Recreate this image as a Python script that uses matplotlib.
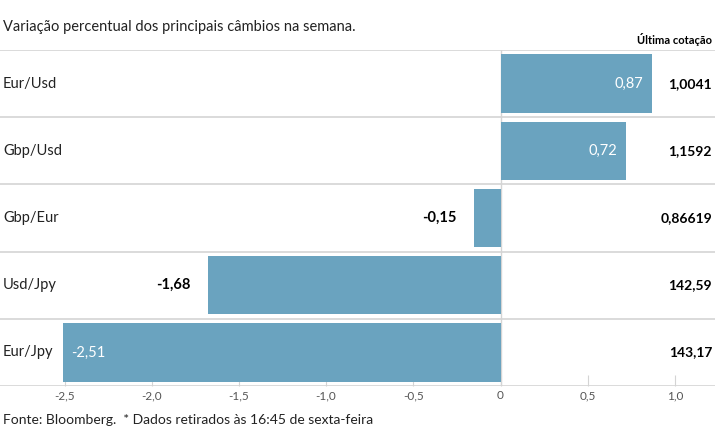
import matplotlib
matplotlib.use("Agg")
import matplotlib.pyplot as plt

pairs = ["Eur/Usd", "Gbp/Usd", "Gbp/Eur", "Usd/Jpy", "Eur/Jpy"]
changes = [0.87, 0.72, -0.15, -1.68, -2.51]
quotes = ["1,0041", "1,1592", "0,86619", "142,59", "143,17"]
ticks = [-2.5, -2.0, -1.5, -1.0, -0.5, 0, 0.5, 1.0]

plt.rcParams["font.family"] = "Lato"
fig = plt.figure(figsize=(7.15, 4.45), dpi=100)
ax = fig.add_axes([0, 1 - 386/445, 1, (386 - 50)/445])
n = len(pairs)
ys = list(range(n))
ax.set_ylim(n - 0.5, -0.5)
ax.set_xlim(-2.87, 1.23)
color = "#6aa3bf"
ax.barh(ys, changes, height=0.87, color=color, zorder=2)
for i in range(n + 1):
    ax.axhline(i - 0.5, color="#d4d4d4", lw=1.2, zorder=1)
ax.axvline(0, color="#d4d4d4", lw=1, zorder=1)
fmt = lambda v: ("%.2f" % v).replace(".", ",")
for y, v, p, q in zip(ys, changes, pairs, quotes):
    if v > 0:
        ax.text(v - 0.05, y, fmt(v), color="white", ha="right", va="center", fontsize=10.5)
    elif v < -2:
        ax.text(v + 0.05, y, fmt(v), color="white", ha="left", va="center", fontsize=10.5)
    else:
        ax.text(v - 0.1, y, fmt(v), color="black", ha="right", va="center", fontsize=10.5, fontweight="bold")
    ax.text(3/715, y, p, transform=ax.get_yaxis_transform(), ha="left", va="center", fontsize=10.5, color="#222222")
    ax.text(712/715, y, q, transform=ax.get_yaxis_transform(), ha="right", va="center", fontsize=10, fontweight="bold")
ax.set_xticks(ticks)
ax.set_xticklabels(["0" if t == 0 else ("%.1f" % t).replace(".", ",") for t in ticks], fontsize=8.5, color="#555555")
ax.tick_params(axis="x", length=8, color="#d4d4d4", direction="in", pad=3)
ax.set_yticks([])
for s in ax.spines.values():
    s.set_visible(False)
fig.text(3/715, 1 - 27/445, "Variação percentual dos principais câmbios na semana.", fontsize=10.5, va="center", color="#222222")
fig.text(712/715, 1 - 40/445, "Última cotação", fontsize=8, fontweight="bold", va="center", ha="right")
fig.text(3/715, 1 - 420/445, "Fonte: Bloomberg.  * Dados retirados às 16:45 de sexta-feira", fontsize=10, va="center", color="#222222")
fig.savefig("out.png", dpi=100)
